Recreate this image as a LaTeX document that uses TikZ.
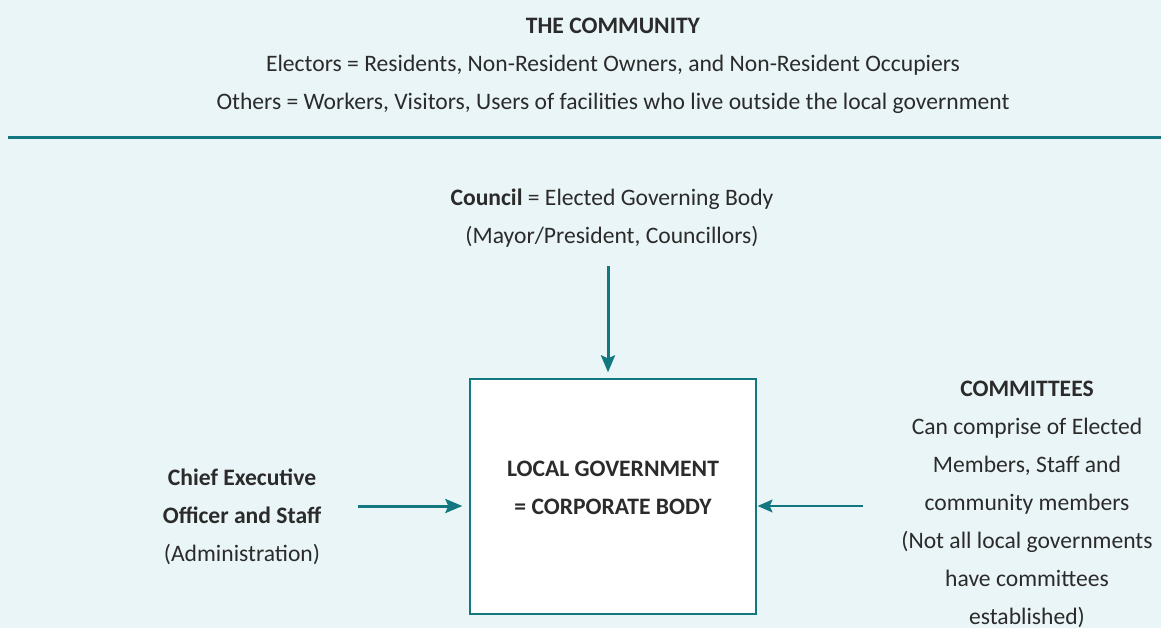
\documentclass[tikz,border=0pt]{standalone}
\usepackage{fontspec}
\setmainfont{Carlito}
\usepackage{tikz}
\usetikzlibrary{arrows.meta,positioning,backgrounds}
\definecolor{lgteal}{HTML}{12777E}
\definecolor{lgback}{HTML}{EAF5F7}
\definecolor{lgink}{HTML}{2B2B2B}
\tikzset{
  lg_text/.style = {align=center, inner sep=0pt, text=lgink,
    font=\fontsize{23.6}{38}\selectfont},
  lg_bold/.style = {lg_text, font=\fontsize{23.6}{38}\selectfont\bfseries},
  lg_box/.style = {rectangle, draw=lgteal, fill=white, line width=1.3pt,
    minimum width=286pt, minimum height=235pt},
  lg_arrow/.style = {-{Stealth[length=17pt,width=14pt,inset=3pt]},
    draw=lgteal, line width=3pt},
  lg_thin/.style = {-{Stealth[length=15pt,width=13pt,inset=3pt]},
    draw=lgteal, line width=1.5pt}
}
\begin{document}
\begin{tikzpicture}[x=1pt,y=-1pt]
        \fill[lgback] (0,0) rectangle (1161,628);
        \useasboundingbox (0,0) rectangle (1161,628);

        % the community
        \node [lg_text](comm) at (613,66){\textbf{THE COMMUNITY}\\
          Electors = Residents, Non-Resident Owners, and Non-Resident Occupiers\\
          Others = Workers, Visitors, Users of facilities who live outside the local government};
        \coordinate (ruleL) at (8,138);
        \coordinate (ruleR) at (1161,138);
        \draw [lgteal, line width=3pt] (ruleL) -- (ruleR);

        % the corporate body
        \node [lg_box](lg) at (613,496.5){};
        \node [lg_bold](lgtext) at (613,488){LOCAL GOVERNMENT\\= CORPORATE BODY};

        \node [lg_text](council) at (612,218){\textbf{Council} = Elected Governing Body\\(Mayor/President, Councillors)};
        \node [lg_text](ceo) at (242,517){\textbf{Chief Executive}\\\textbf{Officer and Staff}\\(Administration)};
        \node [lg_text](cttee) at (1027,504){\textbf{COMMITTEES}\\Can comprise of Elected\\Members, Staff and\\community members\\(Not all local governments\\have committees\\established)};

        \coordinate (arrowcol) at (608,0);
        \coordinate (arrowrow) at (0,506);
        \draw [lg_arrow, shorten <=19pt, shorten >=6pt] (council.south -| arrowcol) -- (lg.north -| arrowcol);
        \draw [lg_arrow, shorten <=37pt, shorten >=7pt] (ceo.east |- arrowrow) -- (lg.west |- arrowrow);
        \draw [lg_thin, shorten <=38pt, shorten >=1pt] (cttee.west |- arrowrow) -- (lg.east |- arrowrow);

        \end{tikzpicture}
\end{document}
